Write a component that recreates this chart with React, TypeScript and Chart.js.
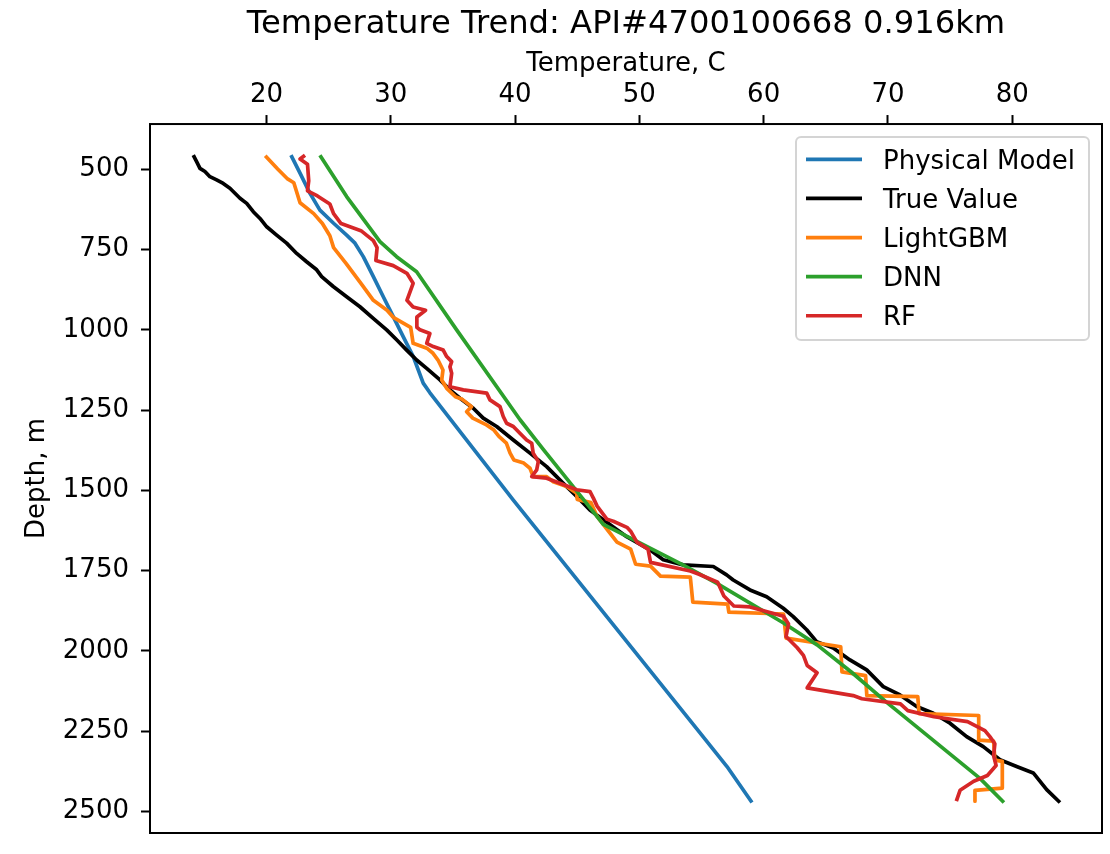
import React, { useEffect, useRef } from "react";
import { Chart, registerables } from "chart.js";

Chart.register(...registerables);

const FONT_FAMILY = "'DejaVu Sans', 'Liberation Sans', sans-serif";

const chartTitle = "Temperature Trend: API#4700100668 0.916km";
const xAxisTitle = "Temperature, C";
const yAxisTitle = "Depth, m";

const temperatureTicks = [20, 30, 40, 50, 60, 70, 80];
const depthTicks = [500, 750, 1000, 1250, 1500, 1750, 2000, 2250, 2500];

const seriesLabels = ["Physical Model", "True Value", "LightGBM", "DNN", "RF"];
const seriesColors = ["#1f77b4", "#000000", "#ff7f0e", "#2ca02c", "#d62728"];

// Each profile is a list of [temperature °C, depth m] readings.
const physicalModel: [number, number][] = [
  [21.97, 456], [22.7, 512], [23.5, 575], [24.3, 627], [25.4, 668], [26.45, 705],
  [27.12, 730], [27.79, 772], [28.6, 834], [29.4, 897], [30.2, 959], [31.0, 1021],
  [31.81, 1083], [32.61, 1166], [33.15, 1196], [39.86, 1530], [54.88, 2255],
  [57.05, 2360], [59.06, 2472],
];

const trueValue: [number, number][] = [
  [14.11, 456], [14.38, 476], [14.65, 497], [15.05, 507], [15.45, 523], [15.99, 533],
  [16.52, 544], [17.06, 559], [17.87, 590], [18.41, 606], [18.94, 632], [19.48, 653],
  [20.02, 679], [20.82, 705], [21.62, 730], [22.43, 762], [23.23, 788], [24.04, 813],
  [24.44, 834], [25.37, 865], [26.45, 897], [27.52, 928], [28.59, 964], [29.67, 1000],
  [30.47, 1031], [31.28, 1063], [32.08, 1094], [32.89, 1120], [33.96, 1156], [34.76, 1187],
  [35.57, 1213], [36.64, 1244], [37.44, 1275], [38.52, 1301], [39.86, 1343], [41.2, 1384],
  [42.54, 1426], [43.88, 1478], [44.96, 1519], [46.02, 1561], [48.98, 1644], [50.85, 1685],
  [51.92, 1716], [53.53, 1732], [55.95, 1737], [57.02, 1763], [57.55, 1779], [58.9, 1810],
  [60.24, 1831], [61.58, 1867], [62.38, 1893], [63.46, 1934], [64.26, 1971], [65.6, 1991],
  [66.94, 2028], [68.29, 2059], [69.62, 2111], [70.97, 2137], [72.31, 2173], [73.65, 2194],
  [74.99, 2225], [76.33, 2267], [77.67, 2298], [79.01, 2339], [80.35, 2360], [81.69, 2380],
  [82.77, 2432], [83.84, 2472],
];

const lightGbm: [number, number][] = [
  [19.9, 458], [20.9, 499], [21.7, 530], [22.2, 542], [22.7, 604], [23.8, 638],
  [24.5, 669], [25.1, 707], [25.4, 744], [26.4, 793], [27.6, 855], [28.6, 908],
  [29.7, 939], [30.2, 961], [31.6, 992], [31.8, 1042], [32.9, 1057], [33.4, 1073],
  [33.8, 1094], [34.2, 1125], [34.1, 1156], [34.5, 1182], [35.2, 1208], [35.7, 1215],
  [36.5, 1239], [36.1, 1255], [36.6, 1275], [37.7, 1296], [38.3, 1312], [38.7, 1332],
  [39.3, 1353], [39.6, 1384], [39.9, 1405], [40.7, 1415], [41.2, 1431], [41.46, 1457],
  [42.54, 1457], [43.07, 1473], [44.15, 1488], [44.96, 1509], [45.0, 1528], [46.1, 1538],
  [46.6, 1581], [47.4, 1621], [48.2, 1661], [49.3, 1683], [49.7, 1730], [50.9, 1736],
  [51.7, 1767], [54.1, 1770], [54.3, 1848], [57.1, 1854], [57.2, 1879], [61.6, 1885],
  [61.8, 1960], [66.2, 1987], [66.3, 2065], [68.2, 2077], [68.3, 2139], [72.4, 2142],
  [72.5, 2195], [77.3, 2201], [77.3, 2278], [78.5, 2281], [78.6, 2340], [79.2, 2344],
  [79.2, 2427], [77.0, 2434], [77.0, 2468],
];

const dnn: [number, number][] = [
  [24.3, 456], [26.45, 585], [29.13, 725], [30.47, 772], [32.08, 819], [35.3, 1000],
  [40.4, 1280], [42.3, 1374], [44.9, 1499], [47.1, 1606], [49.8, 1659], [53.5, 1732],
  [56.2, 1789], [61.6, 1913], [64.3, 1981], [67.0, 2064], [69.9, 2160], [77.4, 2397],
  [79.33, 2472],
];

const randomForest: [number, number][] = [
  [23.1, 456], [22.7, 468], [23.3, 484], [23.4, 536], [23.3, 567], [24.1, 583],
  [25.1, 608], [25.4, 638], [26.0, 669], [27.6, 691], [28.6, 722], [28.9, 744],
  [28.8, 784], [30.2, 800], [31.3, 824], [31.8, 855], [31.3, 908], [31.8, 929],
  [32.8, 939], [32.1, 960], [32.1, 992], [32.35, 1000], [33.15, 1011], [32.89, 1042],
  [33.42, 1052], [34.22, 1063], [34.5, 1083], [34.9, 1099], [34.76, 1115], [34.9, 1135],
  [34.76, 1177], [35.83, 1187], [37.72, 1197], [37.98, 1218], [38.79, 1239], [39.05, 1270],
  [39.32, 1291], [39.86, 1301], [40.39, 1322], [40.93, 1343], [41.34, 1353], [41.46, 1384],
  [41.87, 1410], [41.74, 1436], [41.34, 1457], [42.54, 1462], [43.61, 1478], [44.96, 1498],
  [46.03, 1504], [46.3, 1524], [46.6, 1549], [47.4, 1590], [47.9, 1596], [49.0, 1615],
  [49.3, 1627], [49.8, 1661], [50.7, 1683], [50.9, 1724], [54.1, 1751], [54.8, 1761],
  [56.3, 1786], [56.8, 1829], [57.6, 1860], [58.9, 1863], [61.6, 1892], [62.0, 1916],
  [61.8, 1955], [62.7, 1990], [63.2, 2014], [63.5, 2045], [64.3, 2068], [63.5, 2115],
  [67.2, 2139], [67.9, 2149], [71.0, 2165], [71.6, 2186], [73.7, 2205], [76.4, 2220],
  [77.8, 2248], [78.2, 2267], [78.6, 2289], [78.5, 2326], [78.7, 2357], [78.0, 2388],
  [76.9, 2406], [75.8, 2434], [75.5, 2468],
];

const profiles = [physicalModel, trueValue, lightGbm, dnn, randomForest];

const LINE_WIDTH = 3.7;
const TEXT_SIZE = 26;

// Box outline around the plotting area (all four sides).
const axesFramePlugin = {
  id: "axesFrame",
  afterDatasetsDraw(chart: any) {
    const { ctx, chartArea: a } = chart;
    ctx.save();
    ctx.strokeStyle = "#000";
    ctx.lineWidth = 2;
    ctx.strokeRect(a.left, a.top, a.right - a.left, a.bottom - a.top);
    ctx.restore();
  },
};

// Framed legend placed inside the upper-right corner of the plot.
const insetLegendPlugin = {
  id: "insetLegend",
  afterDraw(chart: any) {
    const { ctx, chartArea: a } = chart;
    const width = 293;
    const height = 203;
    const right = a.right - 13;
    const top = a.top + 13;
    const left = right - width;
    const rowStep = 39.1;
    ctx.save();
    ctx.beginPath();
    ctx.roundRect(left, top, width, height, 5);
    ctx.fillStyle = "rgba(255,255,255,0.8)";
    ctx.fill();
    ctx.strokeStyle = "rgba(204,204,204,0.85)";
    ctx.lineWidth = 2;
    ctx.stroke();
    ctx.font = `${TEXT_SIZE}px ${FONT_FAMILY}`;
    ctx.textBaseline = "middle";
    ctx.textAlign = "left";
    chart.data.datasets.forEach((ds: any, i: number) => {
      const y = top + 22.3 + i * rowStep;
      ctx.beginPath();
      ctx.moveTo(left + 10, y);
      ctx.lineTo(left + 66, y);
      ctx.strokeStyle = ds.borderColor;
      ctx.lineWidth = ds.borderWidth;
      ctx.lineCap = "butt";
      ctx.stroke();
      ctx.fillStyle = "#000";
      ctx.fillText(ds.label, left + 87, y + 2.5);
    });
    ctx.restore();
  },
};

export default function App() {
  const canvasRef = useRef<HTMLCanvasElement | null>(null);

  useEffect(() => {
    if (!canvasRef.current) return;
    const tickFont = { family: FONT_FAMILY, size: TEXT_SIZE };
    const datasets = profiles.map((points, i) => ({
      label: seriesLabels[i],
      data: points.map(([t, d]) => ({ x: t, y: d })),
      showLine: true,
      borderColor: seriesColors[i],
      backgroundColor: seriesColors[i],
      borderWidth: LINE_WIDTH,
      borderJoinStyle: "round" as const,
      pointRadius: 0,
      pointHoverRadius: 0,
      tension: 0,
      order: profiles.length - i,
    }));

    const chart = new Chart(canvasRef.current, {
      type: "scatter",
      data: { datasets },
      plugins: [axesFramePlugin, insetLegendPlugin],
      options: {
        animation: false,
        responsive: false,
        maintainAspectRatio: false,
        layout: { padding: { left: 0, right: 8, top: 0, bottom: 21 } },
        plugins: {
          legend: { display: false },
          tooltip: { enabled: false },
          title: {
            display: true,
            text: chartTitle,
            color: "#000",
            fullSize: false,
            font: { family: FONT_FAMILY, size: 32.2, weight: "normal" },
            padding: { top: 5.5, bottom: 2.3 },
          },
        },
        scales: {
          x: {
            type: "linear",
            position: "top",
            min: 10.63,
            max: 87.22,
            afterBuildTicks: (scale: any) => {
              scale.ticks = temperatureTicks.map((v) => ({ value: v }));
            },
            afterFit: (scale: any) => {
              scale.height = 77.6;
              scale.paddingLeft = 0;
              scale.paddingRight = 0;
            },
            ticks: {
              font: tickFont,
              color: "#000",
              padding: 4,
              maxRotation: 0,
              autoSkip: false,
              callback: (v: any) => String(v),
            },
            grid: {
              display: true,
              drawOnChartArea: false,
              drawTicks: true,
              tickLength: 9,
              tickWidth: 2,
              tickColor: "#000",
            },
            border: { display: false },
            title: {
              display: true,
              text: xAxisTitle,
              color: "#000",
              font: tickFont,
              padding: { top: 2, bottom: 0 },
            },
          },
          y: {
            type: "linear",
            position: "left",
            reverse: true,
            min: 359,
            max: 2567,
            afterBuildTicks: (scale: any) => {
              scale.ticks = depthTicks.map((v) => ({ value: v }));
            },
            afterFit: (scale: any) => {
              scale.width = 150;
              scale.paddingTop = 0;
              scale.paddingBottom = 0;
            },
            ticks: {
              font: tickFont,
              color: "#000",
              padding: 12,
              autoSkip: false,
              callback: (v: any) => String(v),
            },
            grid: {
              display: true,
              drawOnChartArea: false,
              drawTicks: true,
              tickLength: 9,
              tickWidth: 2,
              tickColor: "#000",
            },
            border: { display: false },
            title: {
              display: true,
              text: yAxisTitle,
              color: "#000",
              font: tickFont,
              padding: { top: 21.4, bottom: 0 },
            },
          },
        },
      },
    });

    return () => chart.destroy();
  }, []);

  return (
    <div style={{ position: "absolute", left: 0, top: 0, width: 1110, height: 854, background: "#fff" }}>
      <canvas ref={canvasRef} width={1110} height={854} style={{ width: 1110, height: 854, display: "block" }} />
    </div>
  );
}
